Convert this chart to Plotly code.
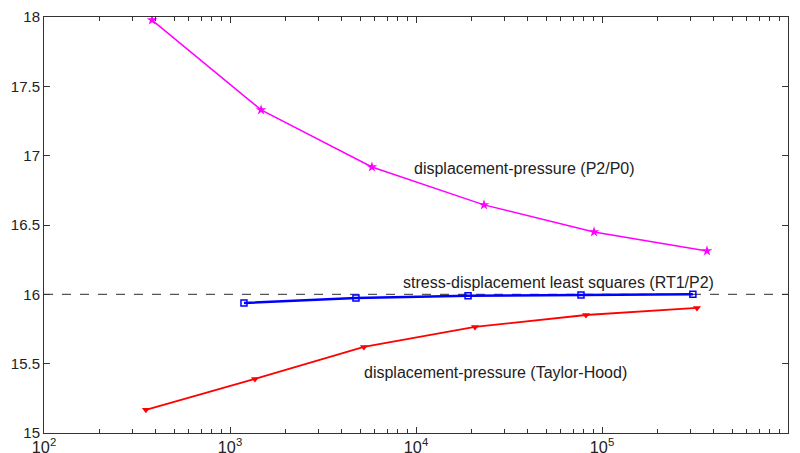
import math
import plotly.graph_objects as go

# Data
p2p0_x = [381, 1469, 5794, 23200, 90600, 367000]
p2p0_y = [17.978, 17.33, 16.918, 16.645, 16.45, 16.313]

rt1p2_x = [1189, 4755, 19050, 77100, 308000]
rt1p2_y = [15.938, 15.974, 15.989, 15.996, 16.001]

th_x = [353, 1362, 5248, 20750, 82000, 324000]
th_y = [15.167, 15.39, 15.621, 15.765, 15.851, 15.902]

ref_level = 16.0
labels = ["displacement-pressure (P2/P0)",
          "stress-displacement least squares (RT1/P2)",
          "displacement-pressure (Taylor-Hood)"]
label_x = [38500, 58000, 26600]
label_y = [16.904, 16.082, 15.433]

FONT = "Liberation Sans, Arial, sans-serif"

fig = go.Figure()
fig.add_trace(go.Scatter(x=[100, 1e6], y=[ref_level, ref_level], mode="lines",
                         line=dict(color="#555555", width=1.2, dash="dash"),
                         hoverinfo="skip"))
fig.add_trace(go.Scatter(x=p2p0_x, y=p2p0_y, mode="lines+markers",
                         line=dict(color="#ff00ff", width=1.5),
                         marker=dict(symbol="star", size=8, color="#ff00ff")))
fig.add_trace(go.Scatter(x=rt1p2_x, y=rt1p2_y, mode="lines+markers",
                         line=dict(color="#0000ff", width=2.5),
                         marker=dict(symbol="square-open", size=6, color="#0000ff",
                                     line=dict(width=1.5, color="#0000ff"))))
fig.add_trace(go.Scatter(x=th_x, y=th_y, mode="lines+markers",
                         line=dict(color="#ff0000", width=1.8),
                         marker=dict(symbol="triangle-down", size=7, color="#ff0000")))

for t, lx, ly in zip(labels, label_x, label_y):
    fig.add_annotation(x=math.log10(lx), y=ly, xref="x", yref="y", text=t,
                       showarrow=False, xanchor="center", yanchor="middle",
                       font=dict(size=16, color="#222222"))

fig.update_layout(
    width=800, height=453,
    margin=dict(l=44, r=12, t=17, b=20),
    paper_bgcolor="white", plot_bgcolor="white",
    showlegend=False,
    font=dict(family=FONT, size=15, color="#222222"),
    xaxis=dict(type="log", range=[2, 6], dtick=1, exponentformat="power",
               tickfont=dict(size=13),
               showgrid=False, zeroline=False, showline=True, linecolor="#333333",
               linewidth=1, mirror="ticks", ticks="inside", ticklen=6,
               tickcolor="#333333", automargin=False, ticklabelstandoff=0,
               minor=dict(ticks="inside", ticklen=4, dtick="D1", showgrid=False,
                          tickcolor="#333333")),
    yaxis=dict(range=[15, 18], dtick=0.5, showgrid=False, zeroline=False,
               showline=True, linecolor="#333333", linewidth=1, mirror="ticks",
               ticks="inside", ticklen=6, tickcolor="#333333", automargin=False),
)

fig.write_html("out.html")
